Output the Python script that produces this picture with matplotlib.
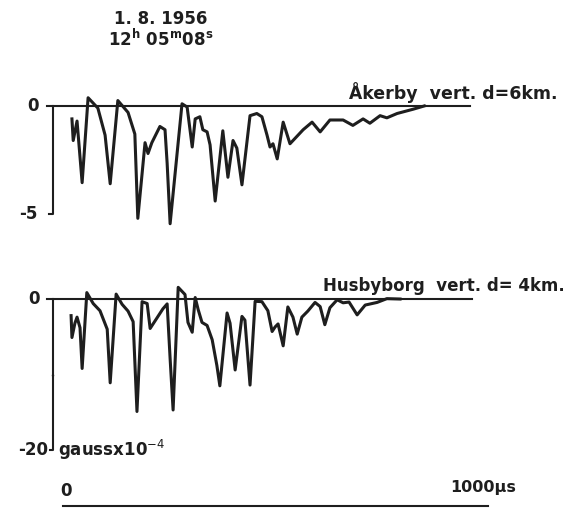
import matplotlib.pyplot as plt

# Åkerby, vertical component (gauss x 10^-4) against time (µs)
t_akerby = [21, 24, 33, 45, 59, 82, 99, 111, 129, 153, 169, 176, 193, 200, 209,
            228, 240, 245, 252, 280, 292, 304, 311, 322, 329, 339, 346, 358, 376, 388,
            400, 409, 421, 440, 456, 468, 480, 487, 494, 504, 518, 534, 565, 586, 605,
            628, 659, 682, 706, 722, 746, 762, 786, 824, 850]
b_akerby = [-0.6, -1.6, -0.7, -3.55, 0.38, -0.1, -1.35, -3.6, 0.25, -0.3, -1.3, -5.2, -1.7, -2.2, -1.7,
            -0.95, -1.1, -2.65, -5.45, 0.1, -0.05, -1.9, -0.6, -0.5, -1.1, -1.2, -1.8, -4.4, -1.15, -3.3,
            -1.6, -1.95, -3.65, -0.45, -0.35, -0.5, -1.35, -1.9, -1.75, -2.45, -0.75, -1.75, -1.1, -0.75, -1.2,
            -0.65, -0.65, -0.9, -0.6, -0.8, -0.45, -0.55, -0.35, -0.15, 0.0]

# Husbyborg, vertical component
t_husby = [19, 21, 28, 33, 40, 45, 56, 71, 87, 104, 111, 125, 139, 153, 165,
           174, 186, 198, 205, 235, 245, 252, 259, 271, 287, 294, 304, 311, 318, 327,
           339, 351, 362, 369, 386, 393, 405, 421, 428, 440, 452, 468, 482, 492, 499,
           506, 518, 529, 541, 551, 562, 576, 593, 605, 616, 628, 645, 659, 673, 692,
           711, 739, 762, 793]
b_husby = [-2.2, -5.1, -3.2, -2.4, -3.8, -9.2, 0.85, -0.6, -1.55, -4.0, -11.1, 0.65, -0.7, -1.6, -3.0,
           -14.9, -0.35, -0.6, -3.9, -1.3, -0.65, -7.9, -14.7, 1.55, 0.6, -3.1, -4.4, 0.2, -1.4, -3.1,
           -3.5, -5.4, -8.8, -11.5, -1.85, -3.2, -9.4, -2.3, -2.8, -11.4, -0.3, -0.35, -1.55, -4.3, -3.7,
           -3.3, -6.2, -1.05, -2.4, -4.65, -2.4, -1.6, -0.45, -1.0, -3.4, -1.15, -0.1, -0.5, -0.4, -2.1,
           -0.8, -0.45, 0.05, 0.0]

ink = '#1e1e1e'
fnt = dict(family='DejaVu Sans', fontweight='bold', color=ink)

fig = plt.figure(figsize=(5.75, 5.11), dpi=100)

ax1 = fig.add_axes([0.0696, 0.5499, 0.8, 0.2838])
ax2 = fig.add_axes([0.0696, 0.0900, 0.8, 0.3718])
ax1.set_ylim(-5.74, 0.97)
ax2.set_ylim(-21.99, 3.18)
for ax in (ax1, ax2):
    ax.set_xlim(-54.1, 1028.2)
    ax.axis('off')

x_axis = -23.5

# top panel
ax1.plot([-37, 958], [0, 0], color=ink, lw=1.5, clip_on=False)
ax1.plot([x_axis, x_axis, -32], [0, -5, -5], color=ink, lw=1.5)
ax1.plot(t_akerby, b_akerby, color=ink, lw=2.2, solid_joinstyle='round', clip_on=False)
ax1.text(-56, 0, '0', ha='right', va='center', fontsize=12, **fnt)
ax1.text(-61, -5, '-5', ha='right', va='center', fontsize=12, **fnt)
ax1.text(672, 0.12, 'Åkerby  vert. d=6km.', ha='left', va='bottom', fontsize=12.5, **fnt)

# bottom panel
ax2.plot([-37, 963], [0, 0], color=ink, lw=1.5, clip_on=False)
ax2.plot([x_axis, x_axis, -30], [0, -20, -20], color=ink, lw=1.5)
ax2.plot([x_axis, -27], [-10, -10], color=ink, lw=1.0)
ax2.plot(t_husby, b_husby, color=ink, lw=2.2, solid_joinstyle='round', clip_on=False)
ax2.text(-54, 0, '0', ha='right', va='center', fontsize=12, **fnt)
ax2.text(-36, -20, '-20', ha='right', va='center', fontsize=12, **fnt)
ax2.text(-12, -20, 'gaussx10$^{-4}$', ha='left', va='center', fontsize=12, **fnt)
ax2.text(612, 0.5, 'Husbyborg  vert. d= 4km.', ha='left', va='bottom', fontsize=12, **fnt)

# time scale bar
ax2.plot([0, 1000], [-27.4, -27.4], color=ink, lw=1.5, clip_on=False)
ax2.text(7, -26.6, '0', ha='center', va='bottom', fontsize=12, **fnt)
ax2.text(911, -25.9, '1000µs', ha='left', va='bottom', fontsize=11.5, **fnt)

# date / time heading
fig.text(161 / 575, 1 - 19 / 511, '1. 8. 1956', ha='center', va='center', fontsize=12, **fnt)
fig.text(161 / 575, 1 - 39 / 511, r'12$^{\mathbf{h}}$ 05$^{\mathbf{m}}$08$^{\mathbf{s}}$',
         ha='center', va='center', fontsize=12, **fnt)

fig.savefig('out.png', dpi=100, facecolor='white')
